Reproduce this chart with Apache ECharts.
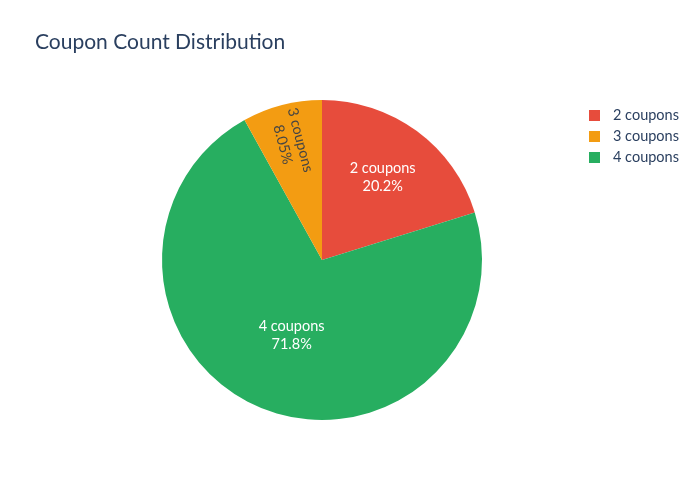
<!DOCTYPE html>
<html>
<head>
<meta charset="utf-8">
<script src="https://cdn.jsdelivr.net/npm/echarts@6/dist/echarts.min.js"></script>
<style>
  html, body { margin: 0; padding: 0; background: #fff; }
  #main { width: 700px; height: 500px; }
</style>
</head>
<body>
<div id="main"></div>
<script>
// slice order as drawn clockwise from 12 o'clock
var categories = ['2 coupons', '4 coupons', '3 coupons'];
var percents = [20.2, 71.8, 8.05];
var colors = ['#e74c3c', '#27ae60', '#f39c12'];
var legendOrder = ['2 coupons', '3 coupons', '4 coupons'];

var C = [322, 260];
var R = 160;
// how far out along the radius each label sits
var labelDepth = [0.64, 0.51, 0.76];

var total = percents.reduce(function (a, b) { return a + b; }, 0);
var midAngles = [];
var acc = 0;
percents.forEach(function (v) {
    midAngles.push((acc + v / 2) / total * 2 * Math.PI);
    acc += v;
});

var myChart = echarts.init(document.getElementById('main'));

var option = {
    backgroundColor: '#fff',
    textStyle: { fontFamily: 'Lato' },
    title: {
        text: 'Coupon Count Distribution',
        left: 35,
        top: 32,
        padding: 0,
        textStyle: { fontFamily: 'Lato', fontSize: 21, fontWeight: 'normal', color: '#2a3f5f' }
    },
    legend: {
        orient: 'vertical',
        left: 589,
        top: 108,
        padding: 0,
        data: legendOrder,
        icon: 'rect',
        itemWidth: 11,
        itemHeight: 11,
        itemGap: 6,
        textStyle: { fontFamily: 'Lato', fontSize: 14.5, color: '#2a3f5f', padding: [0, 0, 0, 8] }
    },
    series: [{
        type: 'pie',
        center: C,
        radius: R,
        startAngle: 90,
        clockwise: true,
        animation: false,
        label: {
            show: true,
            position: 'inside',
            fontFamily: 'Lato',
            fontSize: 14.5,
            lineHeight: 18,
            color: '#fff',
            formatter: function (p) { return p.name + '\n' + p.value + '%'; }
        },
        labelLine: { show: false },
        labelLayout: function (p) {
            var i = p.dataIndex;
            var a = midAngles[i];
            var out = {
                x: C[0] + labelDepth[i] * R * Math.sin(a),
                y: C[1] - labelDepth[i] * R * Math.cos(a),
                align: 'center',
                verticalAlign: 'middle'
            };
            // thin slice: radial text reading inward
            if (categories[i] === '3 coupons') {
                out.rotate = 270 - a * 180 / Math.PI;
            }
            return out;
        },
        emphasis: { disabled: true },
        data: categories.map(function (c, i) {
            var item = { name: c, value: percents[i], itemStyle: { color: colors[i] } };
            if (c === '3 coupons') {
                item.label = { color: '#444' };
            }
            return item;
        })
    }]
};

myChart.setOption(option);
</script>
</body>
</html>
